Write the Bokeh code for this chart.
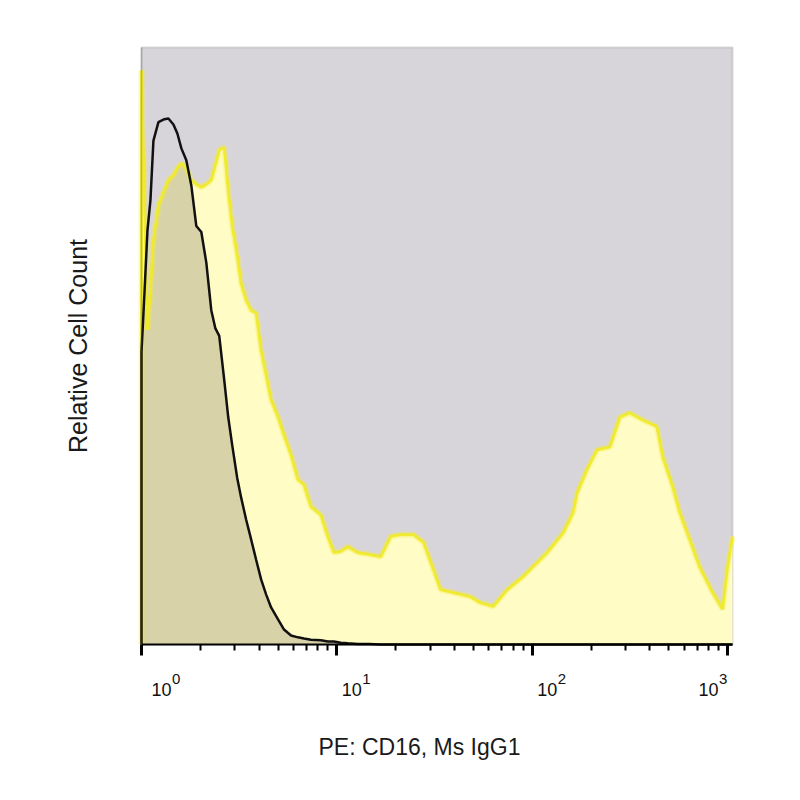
import numpy as np
from bokeh.plotting import figure
from bokeh.models import FixedTicker, Range1d, LogAxis, Label, BoxAnnotation, CustomJSTickFormatter
from bokeh.embed import file_html
from bokeh.resources import INLINE

# ---- data (fluorescence channel, relative cell count in % of max scale) ----
channel = [1.0, 1.036, 1.073, 1.111, 1.151, 1.221, 1.310, 1.373, 1.457, 1.526,
           1.600, 1.696, 1.799, 1.908, 2.024, 2.146, 2.276, 2.386, 2.500, 2.652,
           2.779, 2.913, 3.090, 3.237, 3.434, 3.641, 3.862, 4.095, 4.343, 4.607,
           5.000, 5.365, 5.826, 6.324, 6.786, 7.367, 8.287, 8.997, 9.654, 10.48,
           11.38, 12.80, 14.57, 16.77, 18.86, 21.21, 24.71, 27.79, 31.26, 33.93,
           39.54, 48.29, 54.29, 63.24, 74.56, 89.98, 103.6, 119.3, 143.9, 161.9,
           169.7, 190.8, 214.6, 250.0, 281.2, 316.2, 368.3, 434.4, 466.1, 524.2,
           569.1, 640.2, 719.7, 838.5, 942.9, 1000.0, 1060.0]

cd16 = [96.2, 74.4, 52.7, 59.4, 67.7, 73.6, 76.1, 77.8, 78.6, 79.8,
        80.6, 79.8, 77.8, 77.1, 76.6, 77.1, 77.8, 80.3, 82.8, 83.3,
        76.1, 70.2, 65.2, 60.5, 57.7, 56.0, 55.5, 49.3, 45.2, 41.0,
        38.1, 35.1, 31.8, 27.6, 26.8, 23.1, 21.7, 18.1, 15.4, 15.6,
        16.4, 15.4, 15.1, 14.7, 18.1, 18.4, 18.4, 17.1, 12.5, 9.2,
        8.7, 8.0, 7.0, 6.4, 9.2, 11.4, 13.4, 15.4, 18.7, 22.1,
        25.4, 29.3, 32.6, 33.1, 38.1, 38.8, 37.6, 36.5, 31.4, 26.4,
        22.1, 17.6, 13.0, 8.7, 5.9, 13.0, 18.1]

isotype = [49.0, 59.0, 69.4, 74.4, 84.4, 87.5, 88.0, 88.1, 87.1, 85.6,
           83.1, 81.1, 76.9, 70.1, 69.1, 64.0, 56.0, 53.0, 51.7, 44.3,
           38.1, 33.4, 27.9, 24.6, 20.9, 17.6, 14.2, 10.9, 8.4, 6.2,
           4.2, 2.5, 1.5, 1.2, 1.0, 0.8, 0.7, 0.5, 0.5, 0.3,
           0.2, 0.1, 0.1, 0.0, 0.0, 0.0, 0.0, 0.0, 0.0, 0.0,
           0.0, 0.0, 0.0, 0.0, 0.0, 0.0, 0.0, 0.0, 0.0, 0.0,
           0.0, 0.0, 0.0, 0.0, 0.0, 0.0, 0.0, 0.0, 0.0, 0.0,
           0.0, 0.0, 0.0, 0.0, 0.0, 0.0, 0.0]

x_min, x_max = 1, 1060          # plotted channel range
y_min, y_max = 0, 100           # relative count scale
tick_values = [1, 10, 100, 1000]
tick_exponents = ["0", "1", "2", "3"]
minor_tick_values = [m * 10 ** d for d in range(3) for m in range(2, 10)]

x_title = "PE: CD16, Ms IgG1"
y_title = "Relative Cell Count"

FONT = "Liberation Sans"

# ---- layout: the frame is enlarged so that all texts lie inside it ----
PLOT_W, PLOT_H = 591, 597                 # size of the histogram area in px
DEC = PLOT_W / np.log10(x_max / x_min)    # px per decade
UNIT = PLOT_H / (y_max - y_min)           # px per count unit
PAD_L, PAD_R, PAD_T, PAD_B = 121, 28, 7, 121
x_lo = x_min * 10 ** (-PAD_L / DEC)
x_hi = x_max * 10 ** (PAD_R / DEC)
y_lo = y_min - PAD_B / UNIT
y_hi = y_max + PAD_T / UNIT

p = figure(x_axis_type="log", x_range=Range1d(x_lo, x_hi), y_range=Range1d(y_lo, y_hi),
           x_axis_location=None, y_axis_location=None,
           frame_width=PLOT_W + PAD_L + PAD_R, frame_height=PLOT_H + PAD_T + PAD_B,
           min_border_left=20, min_border_top=40, min_border_right=20, min_border_bottom=30,
           output_backend="svg", toolbar_location=None)

p.background_fill_color = "white"
p.border_fill_color = "white"
p.outline_line_color = None
p.grid.visible = False

# histogram area background + border
p.add_layout(BoxAnnotation(left=x_min, right=x_max, bottom=y_min, top=y_max,
                           fill_color="#d8d5da", fill_alpha=1.0,
                           line_color="#8a8a8a", line_width=2, level="underlay"))

# filled histograms
p.varea(x=channel, y1=0, y2=cd16, fill_color="#fffcc6")
overlap = np.minimum(np.array(cd16), np.array(isotype))
p.varea(x=channel, y1=0, y2=overlap, fill_color="#d8d2a8")

x_line = [channel[0]] + channel
p.line(x=x_line, y=[0] + cd16, line_color="#f4ef3c", line_width=6, line_alpha=0.35)
p.line(x=x_line, y=[0] + cd16, line_color="#efe92a", line_width=2.8, line_alpha=0.95)
p.line(x=x_line, y=[0] + isotype, line_color="#111111", line_width=2.5)

# left edge of the histogram area (darker)
p.add_layout(BoxAnnotation(left=x_min, right=x_min, bottom=y_min, top=y_max,
                           fill_alpha=0, line_color="#505050", line_width=1.5))

# x axis ticks, drawn at count 0
ax = LogAxis(ticker=FixedTicker(ticks=tick_values, minor_ticks=minor_tick_values))
ax.fixed_location = 0
ax.bounds = (x_min, x_max)
ax.formatter = CustomJSTickFormatter(code="return ''")
ax.major_label_standoff = 0
ax.major_label_text_font_size = "1px"
ax.axis_line_color = "black"
ax.axis_line_width = 2
ax.major_tick_in = 0
ax.major_tick_out = 11
ax.major_tick_line_width = 3
ax.major_tick_line_color = "black"
ax.minor_tick_in = 0
ax.minor_tick_out = 6
ax.minor_tick_line_width = 2
ax.minor_tick_line_color = "black"
p.add_layout(ax, "below")

# tick labels 10^n
label_offsets = [10, 5, 5, -29]
for v, e, o in zip(tick_values, tick_exponents, label_offsets):
    p.add_layout(Label(x=v, y=0, text="10", x_offset=o, y_offset=-45,
                       text_align="left", text_baseline="alphabetic",
                       text_font=FONT, text_font_size="18px", text_color="#111111"))
    p.add_layout(Label(x=v, y=0, text=e, x_offset=o + 20.5, y_offset=-34,
                       text_align="left", text_baseline="alphabetic",
                       text_font=FONT, text_font_size="15px", text_color="#111111"))

# axis titles
p.add_layout(Label(x=x_min * 10 ** (278 / DEC), y=0, y_offset=-102, text=x_title,
                   text_align="center", text_baseline="alphabetic",
                   text_font=FONT, text_font_size="23px", text_color="#1a1a1a"))
p.add_layout(Label(x=x_min * 10 ** (-64 / DEC), y=(y_min + y_max) / 2, text=y_title,
                   angle=np.pi / 2, text_align="center", text_baseline="middle",
                   text_font=FONT, text_font_size="25px", text_color="#1a1a1a"))

open("out.html", "w").write(file_html(p, INLINE))
